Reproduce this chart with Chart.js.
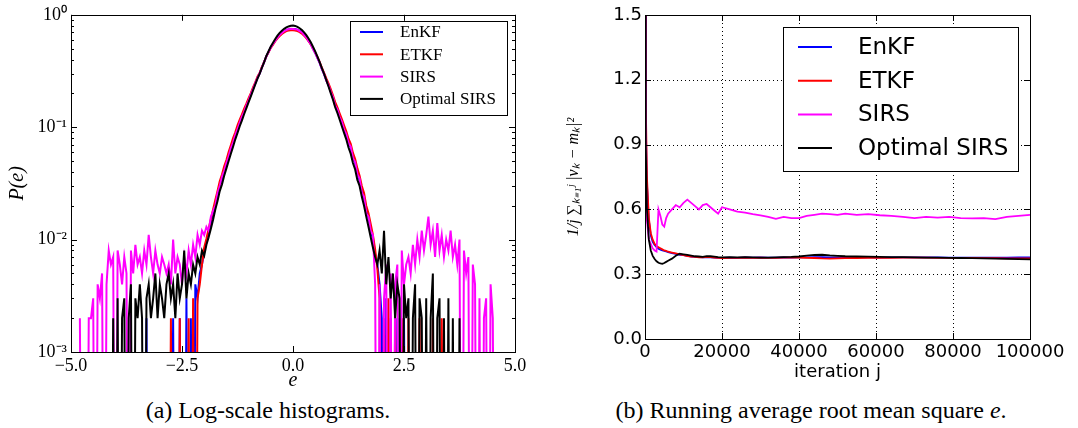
<!DOCTYPE html>
<html lang="en">
<head>
<meta charset="UTF-8">
<title>Log-scale histograms and running average</title>
<script src="https://cdn.jsdelivr.net/npm/chart.js"></script>
<style>
    body {
        margin: 0;
        background: #fff;
        width: 1078px;
        height: 428px;
        position: relative;
        overflow: hidden;
    }
    canvas { position: absolute; top: 0; }
    #histChart { left: 0; }
    #runChart { left: 540px; }
    .caption {
        position: absolute;
        top: 398px;
        font-family: 'Liberation Serif', serif;
        font-size: 24px;
        line-height: 1;
        color: #000;
        white-space: nowrap;
        transform: translateX(-50%);
    }
</style>
</head>
<body>
<canvas id="histChart" width="540" height="395"></canvas>
<canvas id="runChart" width="538" height="395"></canvas>
<div class="caption" style="left:268px">(a) Log-scale histograms.</div>
<div class="caption" style="left:811px">(b) Running average root mean square <i>e</i>.</div>

<script>
// ---- (a) histogram data: P(e) per bin, bins 0.05 wide ----
const binWidth = 0.05;
const seriesNames = ['EnKF', 'ETKF', 'SIRS', 'Optimal SIRS'];
const seriesColors = ['#0000ff', '#ff0000', '#ff00ff', '#000000'];

const enkfFrom = -3.4;
const enkfP = [
    0, 0, 0.002, 0, 0, 0, 0, 0, 0, 0,
    0, 0, 0, 0, 0.002, 0, 0, 0.002, 0, 0,
    0.003, 0, 0.002, 0, 0.004, 0.003, 0.005, 0.006, 0.0078, 0.0095,
    0.0118, 0.0140, 0.0172, 0.021, 0.025, 0.031, 0.035, 0.042, 0.047, 0.057,
    0.064, 0.075, 0.084, 0.098, 0.111, 0.122, 0.139, 0.154, 0.175, 0.194,
    0.220, 0.244, 0.276, 0.301, 0.340, 0.379, 0.428, 0.467, 0.514, 0.549,
    0.590, 0.630, 0.660, 0.690, 0.712, 0.735, 0.742, 0.748, 0.745, 0.748,
    0.735, 0.718, 0.695, 0.664, 0.628, 0.587, 0.548, 0.500, 0.458, 0.415,
    0.374, 0.330, 0.296, 0.262, 0.235, 0.208, 0.183, 0.157, 0.142, 0.125,
    0.111, 0.097, 0.086, 0.073, 0.066, 0.054, 0.048, 0.039, 0.034, 0.027,
    0.0235, 0.018, 0.0158, 0.0122, 0.0102, 0.0075, 0.0060, 0.004, 0.002, 0,
    0.003, 0, 0.002, 0, 0, 0.002, 0, 0, 0.002, 0,
    0
];

const etkfFrom = -2.9;
const etkfP = [
    0, 0, 0, 0.002, 0, 0, 0, 0.002, 0, 0,
    0, 0.002, 0, 0.003, 0, 0.003, 0.004, 0.006, 0.0085, 0.0102,
    0.0125, 0.0152, 0.0185, 0.0225, 0.027, 0.033, 0.038, 0.045, 0.051, 0.060,
    0.069, 0.080, 0.090, 0.104, 0.117, 0.130, 0.146, 0.162, 0.181, 0.201,
    0.226, 0.250, 0.281, 0.306, 0.344, 0.381, 0.427, 0.465, 0.508, 0.543,
    0.582, 0.618, 0.648, 0.675, 0.697, 0.716, 0.724, 0.730, 0.728, 0.726,
    0.716, 0.702, 0.681, 0.652, 0.620, 0.582, 0.546, 0.502, 0.461, 0.421,
    0.381, 0.339, 0.305, 0.272, 0.245, 0.218, 0.192, 0.167, 0.150, 0.133,
    0.118, 0.104, 0.092, 0.079, 0.071, 0.059, 0.052, 0.043, 0.037, 0.030,
    0.026, 0.020, 0.0172, 0.0138, 0.0110, 0.0082, 0.0055, 0.003, 0, 0.002,
    0, 0.003, 0, 0, 0.002, 0, 0, 0.002, 0, 0,
    0.002, 0, 0, 0, 0, 0.002, 0, 0, 0, 0,
    0, 0.002, 0, 0, 0, 0.002, 0
];

const sirsFrom = -4.8;
const sirsP = [
    0.002, 0, 0, 0, 0.002, 0.002, 0.003, 0, 0.004, 0.003,
    0.005, 0, 0.004, 0.008, 0.006, 0.007, 0, 0.008, 0.006, 0.004,
    0.007, 0.005, 0, 0.008, 0.005, 0.009, 0.006, 0.007, 0.005, 0.008,
    0.006, 0.011, 0.007, 0.005, 0.008, 0.006, 0.005, 0.007, 0.006, 0.005,
    0.006, 0.004, 0.010, 0.005, 0.007, 0.006, 0.004, 0.007, 0.005, 0.008,
    0.006, 0.009, 0.007, 0.011, 0.009, 0.012, 0.011, 0.013, 0.012, 0.016,
    0.018, 0.020, 0.026, 0.030, 0.036, 0.041, 0.048, 0.055, 0.065, 0.073,
    0.085, 0.096, 0.110, 0.124, 0.137, 0.156, 0.173, 0.196, 0.218, 0.246,
    0.274, 0.303, 0.338, 0.381, 0.425, 0.470, 0.511, 0.552, 0.588, 0.628,
    0.662, 0.688, 0.714, 0.732, 0.745, 0.752, 0.749, 0.744, 0.738, 0.715,
    0.697, 0.661, 0.631, 0.585, 0.551, 0.497, 0.460, 0.412, 0.376, 0.328,
    0.298, 0.260, 0.237, 0.206, 0.185, 0.155, 0.144, 0.123, 0.112, 0.095,
    0.087, 0.072, 0.067, 0.053, 0.049, 0.038, 0.035, 0.026, 0.024, 0.017,
    0.016, 0.012, 0.011, 0.004, 0, 0.004, 0, 0.003, 0.006, 0,
    0.005, 0, 0.004, 0.006, 0, 0.008, 0.004, 0.006, 0.007, 0.005,
    0.009, 0.006, 0.010, 0.007, 0.012, 0.008, 0.011, 0.016, 0.009, 0.012,
    0.007, 0.014, 0.008, 0.011, 0.007, 0.010, 0.008, 0.012, 0.007, 0.009,
    0.006, 0.010, 0, 0.008, 0.005, 0.007, 0, 0.006, 0.004, 0,
    0.003, 0, 0.002, 0.003, 0, 0.004, 0.002, 0, 0
];

const optFrom = -4.1;
const optP = [
    0, 0.002, 0, 0.003, 0, 0.002, 0.003, 0, 0.002, 0.004,
    0, 0.003, 0.002, 0.004, 0.002, 0, 0.003, 0.004, 0.002, 0.003,
    0.005, 0.002, 0.004, 0.003, 0.002, 0.004, 0.005, 0.003, 0.004, 0.002,
    0.005, 0.003, 0.004, 0.008, 0.003, 0.005, 0.004, 0.006, 0.005, 0.007,
    0.006, 0.008, 0.0072, 0.0090, 0.0105, 0.0125, 0.0150, 0.0185, 0.022, 0.027,
    0.031, 0.037, 0.043, 0.050, 0.058, 0.067, 0.078, 0.089, 0.102, 0.115,
    0.131, 0.148, 0.167, 0.188, 0.213, 0.240, 0.270, 0.300, 0.338, 0.380,
    0.430, 0.475, 0.522, 0.565, 0.610, 0.652, 0.690, 0.722, 0.750, 0.772,
    0.788, 0.798, 0.802, 0.796, 0.782, 0.760, 0.733, 0.698, 0.660, 0.616,
    0.570, 0.520, 0.472, 0.425, 0.380, 0.336, 0.298, 0.262, 0.230, 0.201,
    0.176, 0.151, 0.134, 0.117, 0.102, 0.089, 0.078, 0.066, 0.058, 0.048,
    0.042, 0.034, 0.030, 0.024, 0.020, 0.016, 0.013, 0.0105, 0.0085, 0.0070,
    0.0060, 0.008, 0.005, 0.012, 0.004, 0.007, 0.003, 0.005, 0.002, 0.004,
    0.003, 0, 0.004, 0.002, 0.003, 0, 0.002, 0.004, 0, 0.003,
    0.002, 0, 0.003, 0, 0.002, 0.005, 0, 0.002, 0.003, 0,
    0.002, 0, 0.003, 0, 0.002, 0, 0, 0.002, 0, 0,
    0
];

const eTicks = [-5, -2.5, 0, 2.5, 5];
const pTicks = [0.001, 0.01, 0.1, 1];
const pTickLabels = ['10⁻³', '10⁻²', '10⁻¹', '10⁰'];

// ---- (b) running average data ----
const iterations = [
    0, 200, 500, 1000, 1500, 2000, 2500, 3000, 3500, 4000,
    4500, 5000, 5500, 6000, 7000, 8000, 9000, 10000, 11000, 12000,
    13000, 14000, 15000, 16000, 17000, 18000, 19000, 20000, 22000, 24000,
    26000, 28000, 30000, 32000, 34000, 36000, 38000, 40000, 42000, 44000,
    46000, 48000, 50000, 52000, 55000, 58000, 61000, 64000, 67000, 70000,
    73000, 76000, 79000, 82000, 85000, 88000, 91000, 94000, 97000, 100000
];
const enkfRun = [
    1.6, 1.0, 0.72, 0.55, 0.48, 0.45, 0.435, 0.425, 0.418, 0.413,
    0.41, 0.408, 0.405, 0.402, 0.398, 0.394, 0.39, 0.388, 0.385, 0.382,
    0.38, 0.379, 0.378, 0.379, 0.378, 0.377, 0.376, 0.376, 0.377, 0.376,
    0.378, 0.377, 0.378, 0.377, 0.377, 0.378, 0.377, 0.378, 0.378, 0.379,
    0.379, 0.378, 0.378, 0.378, 0.378, 0.378, 0.377, 0.378, 0.378, 0.378,
    0.378, 0.378, 0.377, 0.377, 0.377, 0.377, 0.377, 0.377, 0.378, 0.378
];
const etkfRun = [
    1.6, 1.1, 0.75, 0.56, 0.49, 0.46, 0.44, 0.43, 0.425, 0.42,
    0.415, 0.41, 0.408, 0.404, 0.4, 0.396, 0.392, 0.388, 0.384, 0.382,
    0.38, 0.378, 0.378, 0.38, 0.379, 0.377, 0.376, 0.375, 0.376, 0.376,
    0.377, 0.376, 0.377, 0.376, 0.376, 0.377, 0.377, 0.377, 0.376, 0.375,
    0.373, 0.372, 0.373, 0.374, 0.375, 0.376, 0.376, 0.376, 0.377, 0.377,
    0.377, 0.376, 0.376, 0.375, 0.375, 0.374, 0.374, 0.373, 0.373, 0.373
];
const sirsRun = [
    1.6, 0.8, 0.55, 0.46, 0.44, 0.42, 0.41, 0.405, 0.6, 0.57,
    0.53, 0.52, 0.56, 0.58, 0.6, 0.62, 0.61, 0.63, 0.645, 0.63,
    0.615, 0.6, 0.62, 0.625, 0.61, 0.595, 0.58, 0.61, 0.6, 0.59,
    0.585, 0.578, 0.572, 0.565, 0.556, 0.565, 0.56, 0.56, 0.57, 0.575,
    0.58, 0.578, 0.575, 0.58, 0.575, 0.578, 0.573, 0.57, 0.565, 0.56,
    0.565, 0.562, 0.565, 0.56, 0.558, 0.56, 0.555, 0.565, 0.57, 0.575
];
const optRun = [
    1.6, 0.9, 0.6, 0.46, 0.41, 0.385, 0.37, 0.36, 0.353, 0.35,
    0.348, 0.352, 0.357, 0.362, 0.372, 0.385, 0.395, 0.392, 0.389, 0.386,
    0.383, 0.382, 0.38, 0.384, 0.383, 0.381, 0.379, 0.378, 0.379, 0.378,
    0.379, 0.378, 0.377, 0.377, 0.378, 0.379, 0.38, 0.382, 0.386, 0.389,
    0.39, 0.387, 0.385, 0.383, 0.382, 0.381, 0.38, 0.379, 0.379, 0.378,
    0.377, 0.377, 0.376, 0.375, 0.374, 0.373, 0.372, 0.371, 0.37, 0.369
];
const iterTicks = [0, 20000, 40000, 60000, 80000, 100000];
const runTicks = [0, 0.3, 0.6, 0.9, 1.2, 1.5];

// empty bins can't sit on a log axis: like matplotlib's clip they drop far below the frame
const emptyBinFloor = 1e-6;

function binPoints(from, vals) {
    return vals.map((p, i) => ({ x: +(from + i * binWidth).toFixed(2), y: p > 0 ? p : emptyBinFloor }));
}
function runPoints(vals) {
    return vals.map((v, i) => ({ x: iterations[i], y: v }));
}

// frame, inward ticks (all four sides) and optional dotted grid
const axisFrame = {
    id: 'axisFrame',
    beforeDatasetsDraw(chart, args, o) {
        if (!o.grid) return;
        const { ctx, chartArea: a } = chart;
        const xs = chart.scales.x, ys = chart.scales.y;
        ctx.save();
        ctx.strokeStyle = '#000';
        ctx.lineWidth = 1;
        ctx.setLineDash([1, 3]);
        ctx.beginPath();
        o.xMajor.forEach(v => {
            const p = Math.round(xs.getPixelForValue(v)) + 0.5;
            if (p > a.left + 2 && p < a.right - 2) { ctx.moveTo(p, a.top); ctx.lineTo(p, a.bottom); }
        });
        o.yMajor.forEach(v => {
            const p = Math.round(ys.getPixelForValue(v)) + 0.5;
            if (p > a.top + 2 && p < a.bottom - 2) { ctx.moveTo(a.left, p); ctx.lineTo(a.right, p); }
        });
        ctx.stroke();
        ctx.restore();
    },
    afterDatasetsDraw(chart, args, o) {
        const { ctx, chartArea: a } = chart;
        const xs = chart.scales.x, ys = chart.scales.y;
        ctx.save();
        ctx.strokeStyle = '#000';
        ctx.lineWidth = 1;
        ctx.beginPath();
        const xt = (v, len) => {
            const p = Math.round(xs.getPixelForValue(v)) + 0.5;
            ctx.moveTo(p, a.bottom); ctx.lineTo(p, a.bottom - len);
            ctx.moveTo(p, a.top); ctx.lineTo(p, a.top + len);
        };
        const yt = (v, len) => {
            const p = Math.round(ys.getPixelForValue(v)) + 0.5;
            ctx.moveTo(a.left, p); ctx.lineTo(a.left + len, p);
            ctx.moveTo(a.right, p); ctx.lineTo(a.right - len, p);
        };
        o.xMajor.forEach(v => xt(v, o.major));
        o.yMajor.forEach(v => yt(v, o.major));
        (o.yMinor || []).forEach(v => yt(v, o.minor));
        ctx.stroke();
        ctx.strokeRect(Math.round(a.left) + 0.5, Math.round(a.top) + 0.5,
            Math.round(a.right - a.left), Math.round(a.bottom - a.top));
        ctx.restore();
    }
};

// legend box drawn inside the plot
const boxLegend = {
    id: 'boxLegend',
    afterDraw(chart, args, o) {
        const ctx = chart.ctx;
        ctx.save();
        ctx.fillStyle = '#fff';
        ctx.fillRect(o.x, o.y, o.w, o.h);
        ctx.strokeStyle = '#000';
        ctx.lineWidth = 1;
        ctx.strokeRect(o.x + 0.5, o.y + 0.5, o.w, o.h);
        ctx.font = o.font;
        ctx.textBaseline = 'middle';
        ctx.textAlign = 'left';
        chart.data.datasets.forEach((ds, i) => {
            const yy = o.y + o.first + i * o.step;
            ctx.strokeStyle = ds.borderColor;
            ctx.lineWidth = o.lw;
            ctx.beginPath();
            ctx.moveTo(o.x + o.l0, yy);
            ctx.lineTo(o.x + o.l1, yy);
            ctx.stroke();
            ctx.fillStyle = '#000';
            ctx.fillText(ds.label, o.x + o.tx, yy + 1);
        });
        ctx.restore();
    }
};

const serif = 'Liberation Serif';
const sans = 'DejaVu Sans';

// minor log tick positions
const pMinor = [];
pTicks.slice(0, 3).forEach(d => { for (let k = 2; k <= 9; k++) pMinor.push(k * d); });

// ---- chart (a) ----
const histSeries = [
    binPoints(enkfFrom, enkfP),
    binPoints(etkfFrom, etkfP),
    binPoints(sirsFrom, sirsP),
    binPoints(optFrom, optP)
];

new Chart(document.getElementById('histChart'), {
    type: 'line',
    data: {
        datasets: histSeries.map((pts, i) => ({
            label: seriesNames[i],
            data: pts,
            borderColor: seriesColors[i],
            borderWidth: 2,
            pointRadius: 0,
            fill: false,
            tension: 0,
            clip: 0,
            order: 3 - i
        }))
    },
    options: {
        responsive: false,
        animation: false,
        events: [],
        layout: { padding: { top: 13, right: 25, left: 0, bottom: 0 } },
        plugins: {
            legend: { display: false },
            tooltip: { enabled: false },
            axisFrame: { xMajor: eTicks, yMajor: pTicks, yMinor: pMinor, major: 6, minor: 3 },
            boxLegend: { x: 350, y: 21, w: 157, h: 94, first: 11, step: 22.3, l0: 10, l1: 33, tx: 50, lw: 2, font: '17px "Liberation Serif"' }
        },
        scales: {
            x: {
                type: 'linear',
                min: -5, max: 5,
                afterBuildTicks: s => { s.ticks = eTicks.map(v => ({ value: v })); },
                afterFit: s => { s.height = 43; },
                grid: { display: false, drawTicks: false },
                border: { display: false },
                ticks: {
                    autoSkip: false, maxRotation: 0, padding: 3, color: '#000',
                    font: { family: serif, size: 18 },
                    callback: v => v.toFixed(1).replace('-', '−')
                },
                title: { display: true, text: 'e', color: '#000', padding: 2,
                    font: { family: serif, size: 20, style: 'italic' } }
            },
            y: {
                type: 'logarithmic',
                min: 0.001, max: 1,
                afterBuildTicks: s => { s.ticks = pTicks.map(v => ({ value: v })); },
                afterFit: s => { s.width = 71; },
                grid: { display: false, drawTicks: false },
                border: { display: false },
                ticks: {
                    autoSkip: false, padding: 4, color: '#000',
                    font: { family: serif, size: 18 },
                    callback: v => pTickLabels[pTicks.indexOf(v)]
                },
                title: { display: true, text: 'P(e)', color: '#000', padding: 6,
                    font: { family: serif, size: 20, style: 'italic' } }
            }
        }
    },
    plugins: [axisFrame, boxLegend]
});

// ---- chart (b) ----
const runSeries = [runPoints(enkfRun), runPoints(etkfRun), runPoints(sirsRun), runPoints(optRun)];

new Chart(document.getElementById('runChart'), {
    type: 'line',
    data: {
        datasets: runSeries.map((pts, i) => ({
            label: seriesNames[i],
            data: pts,
            borderColor: seriesColors[i],
            borderWidth: 1.8,
            pointRadius: 0,
            fill: false,
            tension: 0,
            clip: 0,
            order: 3 - i
        }))
    },
    options: {
        responsive: false,
        animation: false,
        events: [],
        layout: { padding: { top: 15, right: 48, left: 0, bottom: 0 } },
        plugins: {
            legend: { display: false },
            tooltip: { enabled: false },
            axisFrame: { grid: true, xMajor: iterTicks, yMajor: runTicks, major: 6 },
            boxLegend: { x: 243, y: 27, w: 235, h: 144, first: 20, step: 33.7, l0: 15, l1: 49, tx: 75, lw: 2, font: '23px "DejaVu Sans"' }
        },
        scales: {
            x: {
                type: 'linear',
                min: 0, max: 100000,
                afterBuildTicks: s => { s.ticks = iterTicks.map(v => ({ value: v })); },
                afterFit: s => { s.height = 56; },
                grid: { display: false, drawTicks: false },
                border: { display: false },
                ticks: {
                    autoSkip: false, maxRotation: 0, padding: 3, color: '#000',
                    font: { family: sans, size: 18 },
                    callback: v => String(v)
                },
                title: { display: true, text: 'iteration j', color: '#000', padding: 12,
                    font: { family: sans, size: 18 } }
            },
            y: {
                type: 'linear',
                min: 0, max: 1.5,
                afterBuildTicks: s => { s.ticks = runTicks.map(v => ({ value: v })); },
                afterFit: s => { s.width = 105; },
                grid: { display: false, drawTicks: false },
                border: { display: false },
                ticks: {
                    autoSkip: false, padding: 3, color: '#000',
                    font: { family: sans, size: 18 },
                    callback: v => v.toFixed(1)
                },
                title: { display: true, text: '1/j ∑ₖ₌₁ʲ |vₖ − mₖ|²', color: '#000', padding: 24,
                    font: { family: serif, size: 16, style: 'italic' } }
            }
        }
    },
    plugins: [axisFrame, boxLegend]
});
</script>
</body>
</html>
